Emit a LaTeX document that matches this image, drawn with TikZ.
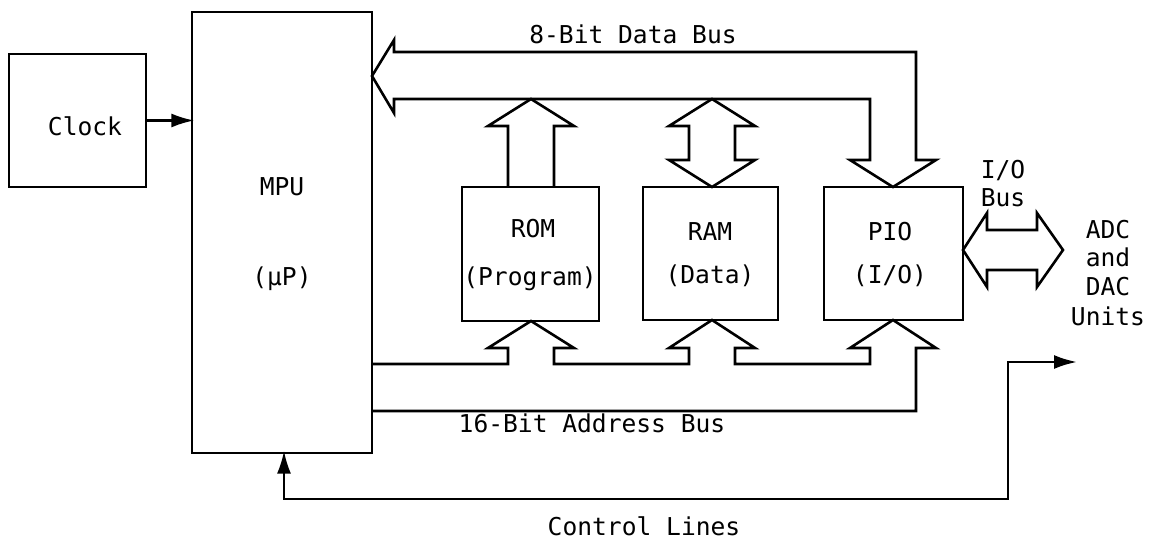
\documentclass[tikz,border=0pt]{standalone}
\usepackage{fontspec}
\newfontfamily\blockfont{DejaVu Sans Mono}
\usetikzlibrary{arrows.meta}

\begin{document}
\begin{tikzpicture}[x=0.5pt,y=-0.5pt,
    blockbox/.style={draw,line width=1.3pt,rectangle,inner sep=0pt,outer sep=0pt},
    busarrow/.style={line width=1.3pt,line join=miter},
    sig/.style={line width=1.3pt,-{Latex[length=11.5pt,width=7pt]},shorten >=-1.2pt},
    sigboth/.style={line width=1.3pt,{Latex[length=11.5pt,width=7pt]}-{Latex[length=11.5pt,width=7pt]},shorten <=-1.2pt},
    txt/.style={anchor=base,inner sep=0pt,font=\blockfont\fontsize{12.3}{14}\selectfont}]

\useasboundingbox (0,0) rectangle (1158,544);

% functional blocks
\node[blockbox,minimum width=68.5pt,minimum height=66.5pt] (Clock) at (77.5,120.5) {};
\node[blockbox,minimum width=90pt,minimum height=220.5pt] (MPU) at (282,232.5) {};
\node[blockbox,minimum width=68.5pt,minimum height=67pt] (ROM) at (530.5,254) {};
\node[blockbox,minimum width=67.5pt,minimum height=66.5pt] (RAM) at (710.5,253.5) {};
\node[blockbox,minimum width=69.5pt,minimum height=66.5pt] (PIO) at (893.5,253.5) {};

% block captions
\node[txt] (clocktxt) at (85,136) {Clock};
\node[txt] (mputxt) at (282,196) {MPU};
\node[txt] (uptxt) at (282,286) {(µP)};
\node[txt] (romtxt) at (533,238) {ROM};
\node[txt] (progtxt) at (530,286) {(Program)};
\node[txt] (ramtxt) at (710,241) {RAM};
\node[txt] (datatxt) at (710,284) {(Data)};
\node[txt] (piotxt) at (890,241) {PIO};
\node[txt] (iotxt) at (890,284) {(I/O)};

% bus and line labels
\node[txt] (dbuslbl) at (633,44) {8-Bit Data Bus};
\node[txt] (abuslbl) at (592,433) {16-Bit Address Bus};
\node[txt] (ctrllbl) at (644,536) {Control Lines};
\node[txt] (ioa) at (1003,179) {I/O};
\node[txt] (iob) at (1003,207) {Bus};
\node[txt] (ext1) at (1108,239) {ADC};
\node[txt] (ext2) at (1108,267) {and};
\node[txt] (ext3) at (1108,296) {DAC};
\node[txt] (ext4) at (1108,326) {Units};

% clock to MPU
\draw[sig] (Clock.east) -- (Clock.east -| MPU.west);

% 8-bit data bus: arrow into the MPU and down into the PIO
\draw[busarrow] (394,52) -- (394,40) -- (MPU.east |- 0,76) -- (394,113) -- (394,99)
  -- (870,99) -- (870,160) -- (850,160) -- (PIO.north -| 893,0) -- (936,160)
  -- (916,160) -- (916,52) -- cycle;

% ROM drives the data bus
\draw[busarrow] (ROM.north -| 508,0) -- (508,126) -- (488,126) -- (531,99)
  -- (574,126) -- (554,126) -- (ROM.north -| 554,0);

% RAM reads and writes the data bus
\draw[busarrow] (712,99) -- (755,126) -- (735,126) -- (735,160) -- (755,160)
  -- (RAM.north -| 712,0) -- (669,160) -- (689,160) -- (689,126) -- (669,126) -- cycle;

% 16-bit address bus from the MPU to ROM, RAM and PIO
\draw[busarrow] (MPU.east |- 0,364) -- (508,364) -- (508,348) -- (488,348)
  -- (ROM.south -| 531,0) -- (574,348) -- (554,348) -- (554,364)
  -- (689,364) -- (689,348) -- (669,348) -- (RAM.south -| 712,0) -- (755,348)
  -- (735,348) -- (735,364) -- (870,364) -- (870,348) -- (850,348)
  -- (PIO.south -| 893,0) -- (936,348) -- (916,348) -- (916,411)
  -- (MPU.east |- 0,411);

% I/O bus between the PIO and the converters
\draw[busarrow] (PIO.east |- 0,250) -- (987,213) -- (987,230) -- (1037,230)
  -- (1037,213) -- (1063,250) -- (1037,287) -- (1037,270) -- (987,270)
  -- (987,287) -- cycle;

% control lines
\coordinate (ctrlA) at (284,499);
\coordinate (ctrlB) at (1008,499);
\coordinate (ctrlEnd) at (1077,362);
\draw[sigboth] (ctrlA |- MPU.south) -- (ctrlA) -- (ctrlB) |- (ctrlEnd);

\end{tikzpicture}
\end{document}
